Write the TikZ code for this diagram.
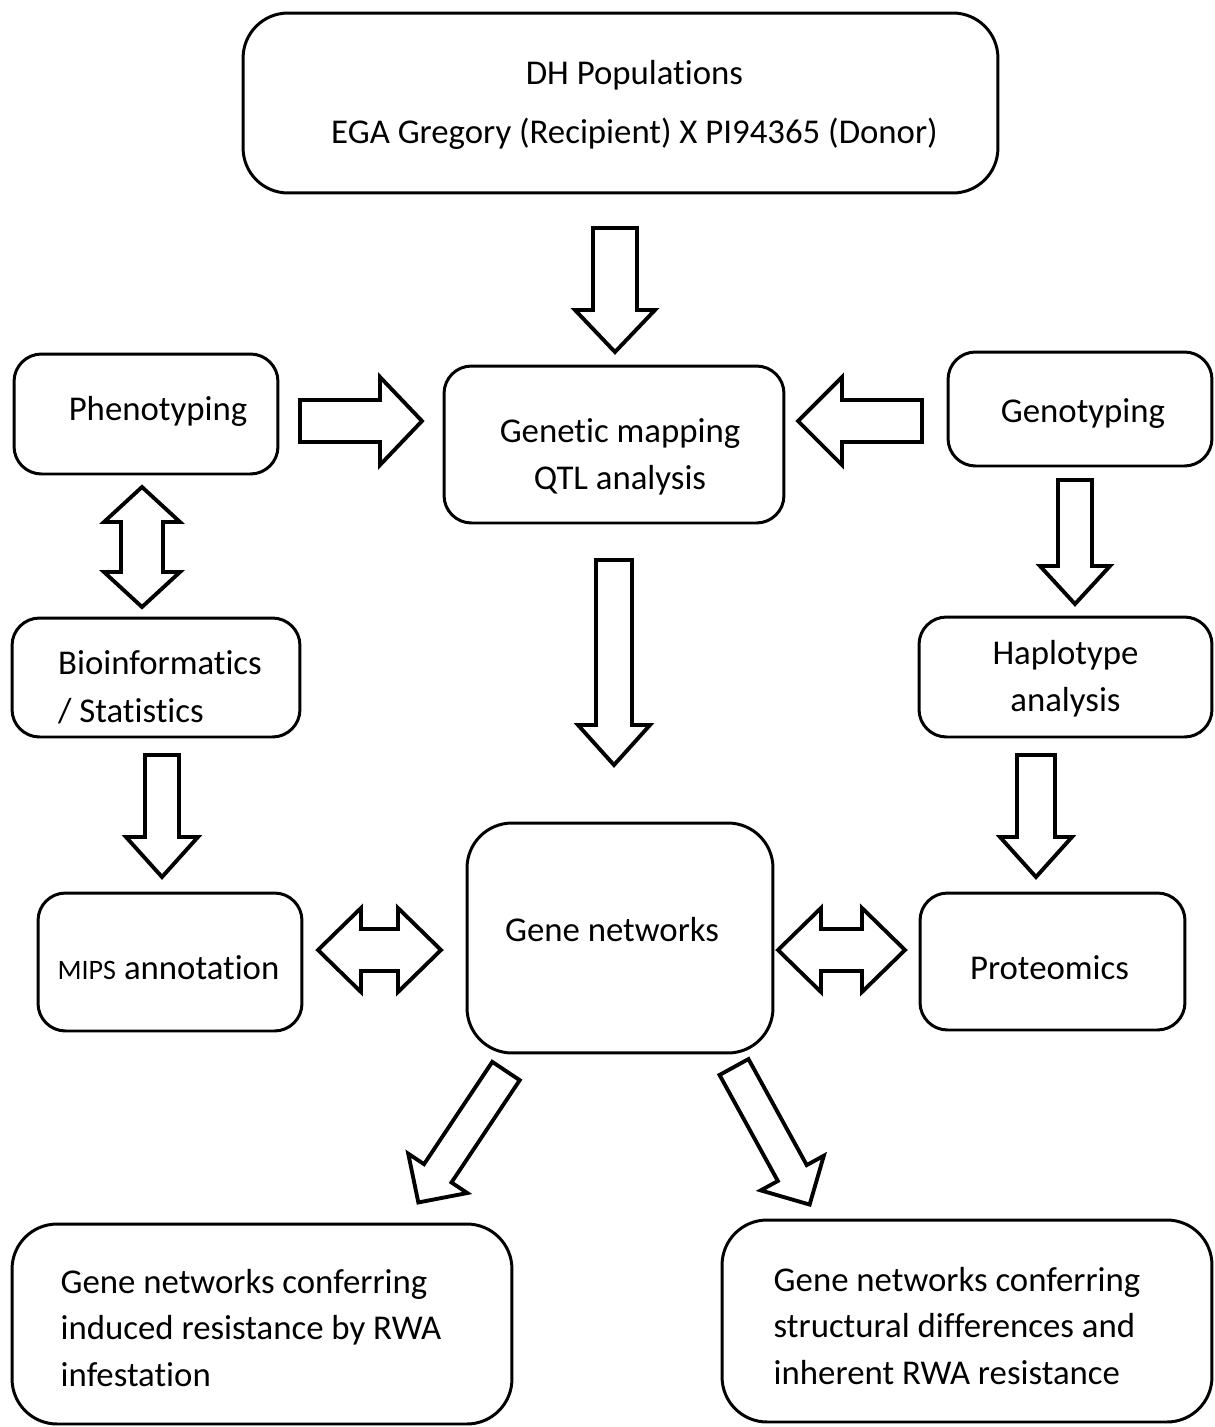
\documentclass[tikz,border=0pt]{standalone}
\usepackage{fontspec}
\setmainfont{Carlito}[Ligatures=NoCommon]
\usepackage{tikz}

\begin{document}
\begin{tikzpicture}[x=0.02cm, y=-0.02cm,
	box/.style={draw, line width=1.7pt, rounded corners=#1, inner sep=0pt},
	box/.default=0.55cm,
	boxtext/.style={align=center, inner sep=0pt, font=\fontsize{19.8}{26.6}\selectfont},
	arrowline/.style={line width=2.2pt, line join=miter, fill=white},
	pics/fatarrow/.style n args={4}{code={
		\draw[arrowline] (0,-#2) -- ({#1-#4},-#2) -- ({#1-#4},-#3) -- (#1,0)
		-- ({#1-#4},#3) -- ({#1-#4},#2) -- (0,#2) -- cycle;}},
	pics/twinarrow/.style n args={4}{code={
		\draw[arrowline] (#4,-#2) -- ({#1-#4},-#2) -- ({#1-#4},-#3) -- (#1,0)
		-- ({#1-#4},#3) -- ({#1-#4},#2) -- (#4,#2) -- (#4,#3) -- (0,0)
		-- (#4,-#3) -- cycle;}}]
	\useasboundingbox (0,0) rectangle (1214,1427);
	
	% Boxes
	\node[box=0.9cm, minimum width=15.1cm, minimum height=3.6cm,
		label={[boxtext, xshift=0.28cm, yshift=-0.04cm]center:{DH Populations\\[6.8pt] EGA Gregory (Recipient) X PI94365 (Donor)}}]
		(dh) at (620.5,103) {};
	\node[box, minimum width=5.28cm, minimum height=2.4cm,
		label={[boxtext, xshift=0.24cm, yshift=0.06cm]center:Phenotyping}]
		(pheno) at (146,414) {};
	\node[box, minimum width=6.8cm, minimum height=3.14cm,
		label={[boxtext, xshift=0.12cm, yshift=-0.24cm]center:{Genetic mapping\\QTL analysis}}]
		(genmap) at (614,444.5) {};
	\node[box, minimum width=5.28cm, minimum height=2.28cm,
		label={[boxtext, xshift=0.06cm, yshift=-0.1cm]center:Genotyping}]
		(geno) at (1080,409) {};
	\node[box, minimum width=5.76cm, minimum height=2.38cm,
		label={[boxtext, align=left, xshift=0.08cm, yshift=-0.2cm]center:{Bioinformatics\\[1pt]/ Statistics}}]
		(bioinf) at (156,677.5) {};
	\node[box, minimum width=5.86cm, minimum height=2.4cm,
		label={[boxtext, yshift=-0.04cm]center:{Haplotype\\analysis}}]
		(haplo) at (1065.5,677) {};
	\node[box, minimum width=5.28cm, minimum height=2.76cm,
		label={[boxtext, xshift=-0.03cm, yshift=-0.12cm]center:{{\fontsize{16}{20}\selectfont MIPS} annotation}}]
		(mips) at (170,962) {};
	\node[box=0.9cm, minimum width=6.12cm, minimum height=4.6cm,
		label={[boxtext, xshift=-0.16cm, yshift=0.16cm]center:Gene networks}]
		(genenet) at (620,938) {};
	\node[box, minimum width=5.3cm, minimum height=2.74cm,
		label={[boxtext, xshift=-0.06cm, yshift=-0.12cm]center:Proteomics}]
		(prot) at (1052.5,961.5) {};
	\node[box=0.9cm, minimum width=10cm, minimum height=4cm,
		label={[boxtext, align=left, xshift=-0.22cm, yshift=-0.08cm]center:{Gene networks conferring\\induced resistance by RWA\\infestation}}]
		(induced) at (262,1324) {};
	\node[box=0.9cm, minimum width=9.8cm, minimum height=4.04cm,
		label={[boxtext, align=left, xshift=-0.2cm, yshift=-0.1cm]center:{Gene networks conferring\\structural differences and\\inherent RWA resistance}}]
		(inherent) at (967,1321) {};
	
	% Block arrows
	\pic[rotate=-90] (a1) at (615,228) {fatarrow={124}{22}{40}{42}};
	\pic (a2) at (300,421) {fatarrow={122}{21}{44}{42}};
	\pic[rotate=180] (a3) at (922,421) {fatarrow={124}{21}{44}{44}};
	\pic[rotate=-90] (a4) at (142,487) {twinarrow={120}{21}{38}{35}};
	\pic[rotate=-90] (a5) at (1075,480) {fatarrow={124}{17}{35}{38}};
	\pic[rotate=-90] (a6) at (614,560) {fatarrow={205}{18}{36}{40}};
	\pic[rotate=-90] (a7) at (162,755) {fatarrow={122}{17}{36}{40}};
	\pic[rotate=-90] (a8) at (1036,755) {fatarrow={122}{19}{36}{40}};
	\pic (a9) at (318,950) {twinarrow={123}{21}{42}{43}};
	\pic (a10) at (778,950) {twinarrow={127}{21}{42}{43}};
	\pic[rotate=236.3] (a11) at (506,1071) {fatarrow={158}{16.5}{35.5}{35}};
	\pic[rotate=-61.2] (a12) at (734,1067) {fatarrow={157}{16.5}{36}{36}};
\end{tikzpicture}
\end{document}
